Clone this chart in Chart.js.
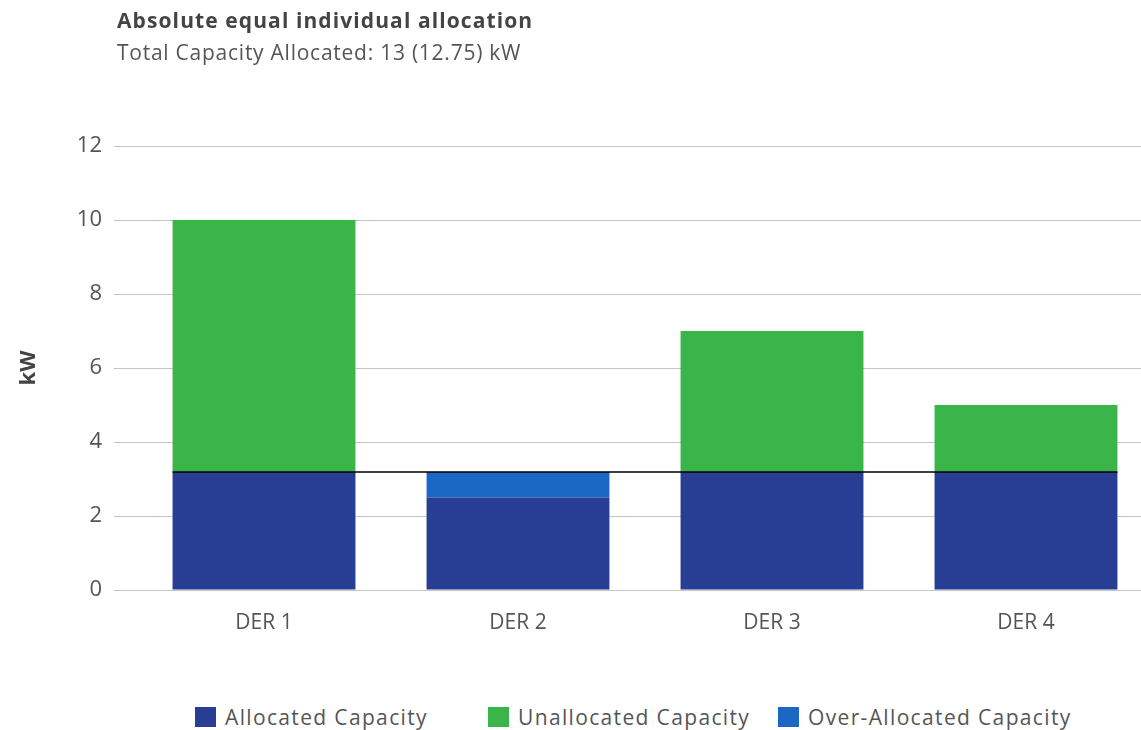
<!DOCTYPE html>
<html>
<head>
<meta charset="utf-8">
<script src="https://cdn.jsdelivr.net/npm/chart.js@4.4.1/dist/chart.umd.min.js"></script>
<style>
  html, body { margin: 0; padding: 0; background: #fff; overflow: hidden; }
  #wrap { position: relative; width: 1141px; height: 730px; overflow: hidden; font-family: 'Open Sans', sans-serif; }
  #plot { position: absolute; left: 0; top: 0; }
  .title { position: absolute; left: 117px; top: 8px; font-weight: bold; font-size: 21px; line-height: 24px; letter-spacing: 1.1px; color: #444; white-space: nowrap; }
  .subtitle { position: absolute; left: 117px; top: 40px; font-size: 21px; line-height: 24px; letter-spacing: 0.75px; color: #555; white-space: nowrap; }
  #legend { position: absolute; left: 0; top: 707px; width: 1141px; height: 20px; white-space: nowrap; }
  #legend .item { position: absolute; top: 0; display: flex; align-items: center; height: 20px; }
  #legend .item:nth-child(1) { left: 195px; }
  #legend .item:nth-child(2) { left: 488px; }
  #legend .item:nth-child(3) { left: 778px; }
  #legend .swatch { width: 21px; height: 20px; margin-right: 9px; }
  #legend .label { font-size: 21px; line-height: 20px; letter-spacing: 1.35px; color: #555; }
</style>
</head>
<body>
<div id="wrap">
  <canvas id="plot" width="1160" height="650"></canvas>
  <div class="title">Absolute equal individual allocation</div>
  <div class="subtitle">Total Capacity Allocated: 13 (12.75) kW</div>
  <div id="legend"></div>
</div>
<script>
// DER units and their capacity split (kW)
const categories = ['DER 1', 'DER 2', 'DER 3', 'DER 4'];
const allocated = [3.1875, 2.5, 3.1875, 3.1875];
const unallocated = [6.8125, 0, 3.8125, 1.8125];
const overAllocated = [0, 0.6875, 0, 0];
// equal share per DER: 12.75 kW / 4
const equalShare = 3.1875;
const yTicks = [0, 2, 4, 6, 8, 10, 12];

const FONT = "'Open Sans', sans-serif";
const TEXT = '#555';

// horizontal marker for the equal share, spanning the bars
const shareLine = {
  id: 'shareLine',
  afterDatasetsDraw(chart) {
    const ctx = chart.ctx;
    const y = chart.scales.y.getPixelForValue(equalShare);
    const bars = chart.getDatasetMeta(0).data;
    const first = bars[0], last = bars[bars.length - 1];
    const x0 = first.x - first.width / 2;
    const x1 = last.x + last.width / 2;
    ctx.save();
    ctx.strokeStyle = '#000';
    ctx.lineWidth = 1.5;
    ctx.beginPath();
    ctx.moveTo(x0, y);
    ctx.lineTo(x1, y);
    ctx.stroke();
    ctx.restore();
  }
};

// legend rendered as HTML below the canvas, built from the chart's legend items
const htmlLegend = {
  id: 'htmlLegend',
  afterUpdate(chart) {
    const box = document.getElementById('legend');
    box.innerHTML = '';
    const items = chart.options.plugins.legend.labels.generateLabels(chart);
    items.forEach(item => {
      const el = document.createElement('div');
      el.className = 'item';
      const sw = document.createElement('span');
      sw.className = 'swatch';
      sw.style.background = item.fillStyle;
      const tx = document.createElement('span');
      tx.className = 'label';
      tx.textContent = item.text;
      el.appendChild(sw);
      el.appendChild(tx);
      box.appendChild(el);
    });
  }
};

new Chart(document.getElementById('plot'), {
  type: 'bar',
  data: {
    labels: categories,
    datasets: [
      { label: 'Allocated Capacity', data: allocated, backgroundColor: '#283d94' },
      { label: 'Unallocated Capacity', data: unallocated, backgroundColor: '#39b54a' },
      { label: 'Over-Allocated Capacity', data: overAllocated, backgroundColor: '#1b67c4' }
    ]
  },
  options: {
    responsive: false,
    animation: false,
    layout: { padding: { top: 146, left: 8, right: 7, bottom: 0 } },
    plugins: {
      tooltip: { enabled: false },
      legend: { display: false }
    },
    scales: {
      x: {
        stacked: true,
        grid: { display: false, drawTicks: false },
        border: { display: false },
        ticks: { color: TEXT, padding: 20, font: { family: FONT, size: 21 } },
        afterFit(scale) { scale.height = 60; }
      },
      y: {
        stacked: true,
        min: 0, max: 12,
        afterBuildTicks(scale) { scale.ticks = yTicks.map(v => ({ value: v })); },
        grid: { color: '#c4c4c4', lineWidth: 1, tickLength: 23 },
        border: { display: false },
        ticks: { color: TEXT, padding: 12, font: { family: FONT, size: 22 } },
        title: {
          display: true, text: 'kW', color: '#444',
          font: { family: FONT, size: 22, weight: 'bold' },
          padding: { top: 8, bottom: 0 }
        },
        afterFit(scale) { scale.width = 129; }
      }
    }
  },
  plugins: [shareLine, htmlLegend]
});
</script>
</body>
</html>
